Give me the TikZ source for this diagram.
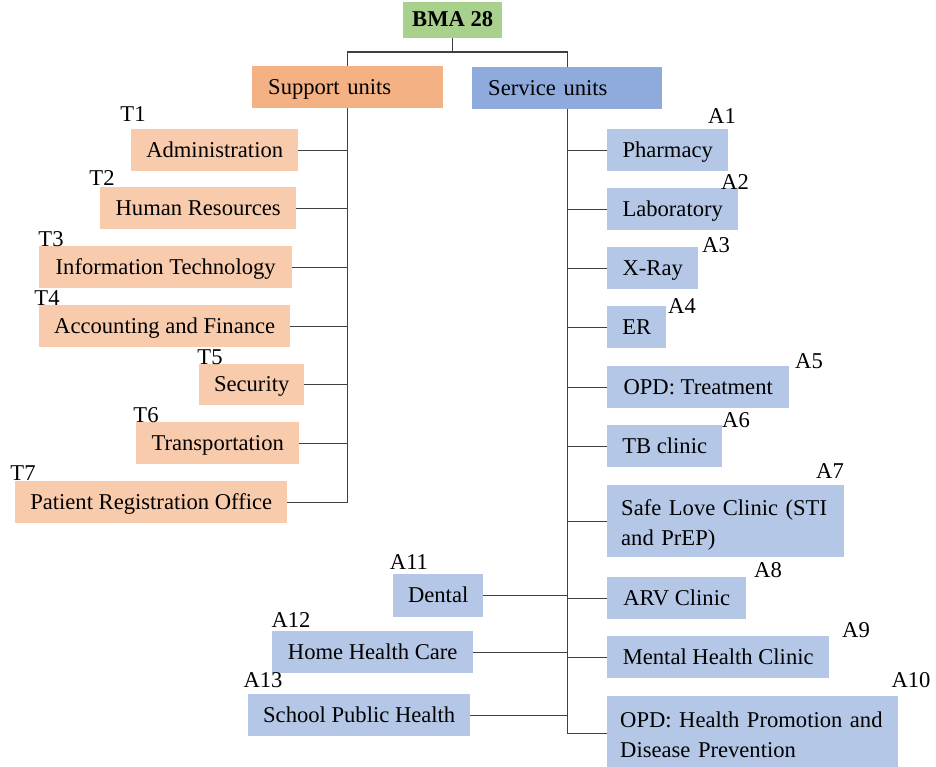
\documentclass[tikz,border=0pt]{standalone}
\usepackage{fontspec}
\setmainfont{Liberation Serif}
\definecolor{gbox}{HTML}{A9D18E}
\definecolor{obox}{HTML}{F4B183}
\definecolor{lobox}{HTML}{F8CBAD}
\definecolor{bbox}{HTML}{8FAADC}
\definecolor{lbbox}{HTML}{B4C7E7}
\definecolor{lnc}{HTML}{404040}
\tikzset{
  unit/.style={anchor=north west, inner xsep=0pt, inner ysep=0pt, align=center,
    font=\fontsize{22.6}{30}\selectfont, text height=19pt, text depth=5pt},
  tbox/.style={unit, fill=lobox},
  abox/.style={unit, fill=lbbox},
  multi/.style={text height=, text depth=, align=left},
  lab/.style={anchor=center, inner sep=0pt, font=\fontsize{22.6}{27}\selectfont},
  conn/.style={draw=lnc, line width=1.3pt},
}
\begin{document}
\begin{tikzpicture}[x=1pt,y=-1pt]
\useasboundingbox (0,0) rectangle (936,767);
% top
\node[unit, fill=gbox, minimum width=99, minimum height=36, text height=18pt, font=\fontsize{22.6}{27}\selectfont\bfseries] (bma) at (403,2) {BMA 28};
\node[unit, fill=obox, minimum width=191, minimum height=42, align=left, text width=159, inner xsep=16pt] (sup) at (252,66) {Support units};
\node[unit, fill=bbox, minimum width=190, minimum height=42, align=left, text width=158, inner xsep=16pt] (ser) at (472,67) {Service units};
% support units
\node[tbox, minimum width=167, minimum height=42] (t1) at (131,129) {Administration};
\node[tbox, minimum width=196, minimum height=42] (t2) at (100,187) {Human Resources};
\node[tbox, minimum width=253, minimum height=42] (t3) at (39,246) {Information Technology};
\node[tbox, minimum width=251, minimum height=42] (t4) at (39,305) {Accounting and Finance};
\node[tbox, minimum width=105, minimum height=41] (t5) at (199,364) {Security};
\node[tbox, minimum width=163, minimum height=42] (t6) at (136,422) {Transportation};
\node[tbox, minimum width=272, minimum height=42] (t7) at (15,481) {Patient Registration Office};
% service units
\node[abox, minimum width=121, minimum height=42] (a1) at (607,129) {Pharmacy};
\node[abox, minimum width=131, minimum height=42] (a2) at (607,188) {Laboratory};
\node[abox, minimum width=91, minimum height=42] (a3) at (607,247) {X-Ray};
\node[abox, minimum width=59, minimum height=42] (a4) at (607,306) {ER};
\node[abox, minimum width=182, minimum height=42] (a5) at (607,366) {OPD: Treatment};
\node[abox, minimum width=115, minimum height=42] (a6) at (607,425) {TB clinic};
\node[abox, multi, minimum width=237, minimum height=72, inner xsep=14pt, text width=209] (a7) at (607,485) {\rule{0pt}{23.5pt}Safe Love Clinic (STI\\and PrEP)};
\node[abox, multi, minimum width=291, minimum height=74, inner xsep=13pt, text width=265] (a10) at (607,696) {\rule{0pt}{19.5pt}OPD: Health Promotion and\\Disease Prevention};
\node[abox, minimum width=139, minimum height=42] (a8) at (607,577) {ARV Clinic};
\node[abox, minimum width=222, minimum height=42] (a9) at (607,636) {Mental Health Clinic};
\node[abox, minimum width=90, minimum height=43] (a11) at (393,574) {Dental};
\node[abox, minimum width=201, minimum height=42] (a12) at (272,631) {Home Health Care};
\node[abox, minimum width=222, minimum height=42] (a13) at (248,694) {School Public Health};
% labels
\node[lab] (lt1) at (133,114) {T1};
\node[lab] (lt2) at (102,178) {T2};
\node[lab] (lt3) at (51,239) {T3};
\node[lab] (lt4) at (47,298) {T4};
\node[lab] (lt5) at (210,357) {T5};
\node[lab] (lt6) at (146,415) {T6};
\node[lab] (lt7) at (23,473) {T7};
\node[lab] (la1) at (722,116) {A1};
\node[lab] (la2) at (735,182) {A2};
\node[lab] (la3) at (716,245) {A3};
\node[lab] (la4) at (682,306) {A4};
\node[lab] (la5) at (809,361) {A5};
\node[lab] (la6) at (736,420) {A6};
\node[lab] (la7) at (830,471) {A7};
\node[lab] (la8) at (768,570) {A8};
\node[lab] (la9) at (856,630) {A9};
\node[lab] (la10) at (911,680) {A10};
\node[lab] (la11) at (409,562) {A11};
\node[lab] (la12) at (291,620) {A12};
\node[lab] (la13) at (263,680) {A13};
% connectors
\coordinate (j0) at (bma.south |- 0,52);
\draw[conn] (bma.south) -- (j0);
\draw[conn] (sup.north) -- (sup.north |- j0) -- (ser.north |- j0) -- (ser.north);
\draw[conn] (sup.south) -- (sup.south |- t7.east) -- (t7.east);
\foreach \n in {t1,t2,t3,t4,t5,t6} {\draw[conn] (\n.east) -- (\n.east -| sup.south);}
\draw[conn] (ser.south) -- (ser.south |- a10.west) -- (a10.west);
\foreach \n in {a1,a2,a3,a4,a5,a6,a7,a8,a9} {\draw[conn] (\n.west) -- (\n.west -| ser.south);}
\foreach \n in {a11,a12,a13} {\draw[conn] (\n.east) -- (\n.east -| ser.south);}
\end{tikzpicture}
\end{document}
